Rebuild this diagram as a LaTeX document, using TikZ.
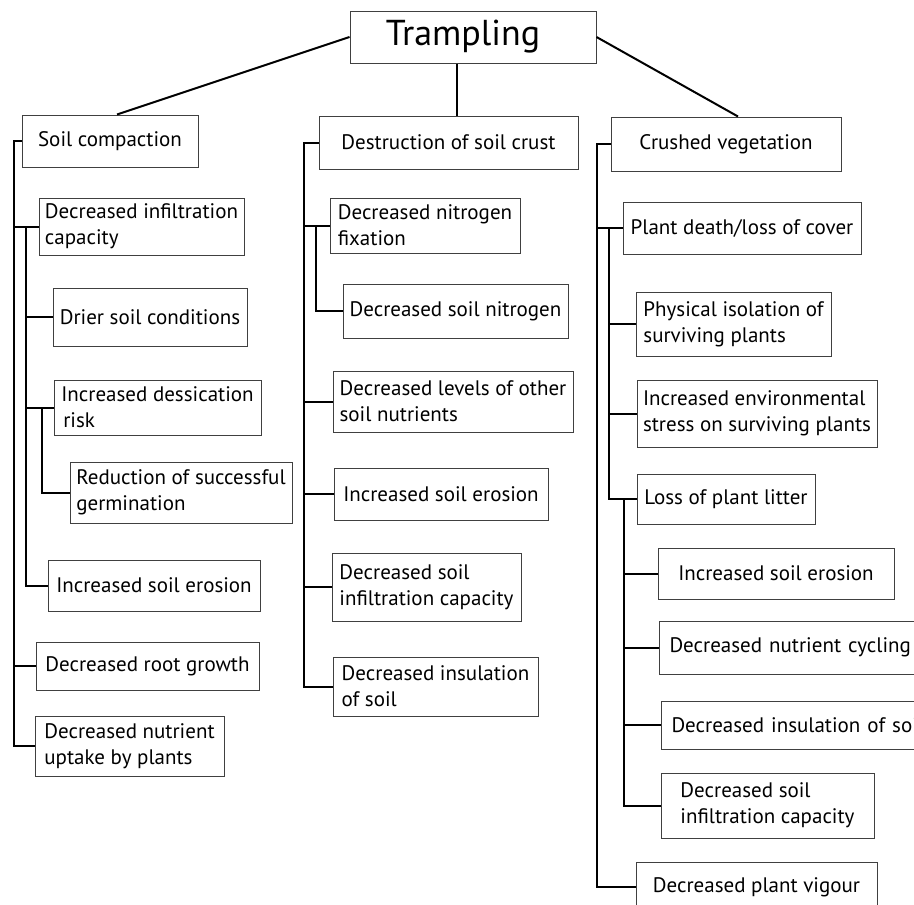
\documentclass[tikz,border=0pt]{standalone}
\usepackage{fontspec}
\setmainfont{PT Sans}
\newcommand\bx[7][]{\node[box,minimum width={#5pt-#3pt},minimum height={#6pt-#4pt},#1] (#2) at ({(#3+#5)/2},{(#4+#6)/2}) {#7};}
\begin{document}
\begin{tikzpicture}[x=1pt,y=-1pt,
  box/.style={draw=black!75, line width=1pt, inner sep=0pt, align=left, font=\fontsize{21}{26}\selectfont},
  leftbox/.style={inner xsep=10pt, text width={#1}},
  conn/.style={line width=2pt, black}]
\useasboundingbox (0,0) rectangle (914,905);
\clip (0,0) rectangle (914,905);
\fill[white] (0,0) rectangle (914,905);
% top level
\bx[font=\fontsize{36}{40}\selectfont]{tr}{350}{11}{596}{63}{Trampling\hspace*{20pt}}
\bx{sc}{22}{115}{198}{167}{Soil compaction}
\bx{ds}{319}{116}{578}{169}{Destruction of soil crust}
\bx{cv}{611}{117}{841}{171}{Crushed vegetation}
\draw[conn] (tr.west) -- ([xshift=7pt]sc.north);
\draw[conn] ([xshift=-16pt]tr.south) -- ([xshift=-16pt]tr.south |- ds.north);
\draw[conn] (tr.east) -- ([xshift=12pt]cv.north);
% left column
\bx{dic}{39}{198}{244}{255}{Decreased infiltration\\capacity}
\bx{dsc}{53}{288}{247}{346}{Drier soil conditions}
\bx{idr}{54}{380}{261}{435}{Increased dessication\\\hspace{2pt}risk}
\bx{rsg}{70}{462}{292}{523}{Reduction of successful\\germination}
\bx{ise1}{48}{560}{260}{611}{Increased soil erosion}
\bx{drg}{36}{642}{259}{690}{Decreased root growth}
\bx{dnu}{35}{716}{224}{776}{Decreased nutrient\\uptake by plants}
\coordinate (L1) at (14,0);
\coordinate (L2) at (26,0);
\coordinate (L3) at (42,0);
\draw[conn] (sc.west) -- (sc.west -| L1) |- (dnu.west);
\draw[conn] (dic.west -| L1) -- (dic.west);
\draw[conn] (drg.west -| L1) -- (drg.west);
\draw[conn] (dic.west -| L2) |- (ise1.west);
\draw[conn] (dsc.west -| L2) -- (dsc.west);
\draw[conn] (idr.west -| L2) -- (idr.west);
\draw[conn] (idr.west -| L3) |- (rsg.west);
% middle column
\bx{dnf}{330}{198}{520}{253}{Decreased nitrogen\\fixation}
\bx{dsn}{343}{284}{568}{338}{Decreased soil nitrogen}
\bx{dlo}{333}{371}{573}{432}{Decreased levels of other\\soil nutrients}
\bx{ise2}{334}{468}{548}{520}{Increased soil erosion}
\bx{dsi2}{332}{553}{521}{621}{Decreased soil\\infiltration capacity}
\bx{dis2}{333}{657}{538}{716}{Decreased insulation\\of soil}
\coordinate (M1) at (304,0);
\coordinate (M2) at (316,0);
\draw[conn] (ds.west) -- (ds.west -| M1) |- (dis2.west);
\draw[conn] (dnf.west -| M1) -- (dnf.west);
\draw[conn] (dlo.west -| M1) -- (dlo.west);
\draw[conn] (ise2.west -| M1) -- (ise2.west);
\draw[conn] (dsi2.west -| M1) -- (dsi2.west);
\draw[conn] (dnf.west -| M2) |- (dsn.west);
% right column
\bx{pd}{623}{202}{861}{254}{Plant death/loss of cover}
\bx{pi}{636}{292}{831}{356}{Physical isolation of\\surviving plants}
\bx{ies}{637}{380}{877}{447}{Increased environmental\\stress on surviving plants}
\bx{lpl}{637}{474}{815}{524}{Loss of plant litter}
\bx{ise3}{658}{548}{894}{599}{Increased soil erosion}
\bx[leftbox=290pt]{dnc}{659}{621}{970}{674}{Decreased nutrient cycling}
\bx[leftbox=290pt]{dis3}{661}{701}{972}{749}{Decreased insulation of soil}
\bx{dsi3}{661}{773}{874}{838}{Decreased soil\\infiltration capacity}
\bx{dpv}{636}{862}{877}{912}{Decreased plant vigour}
\coordinate (R1) at (597,0);
\coordinate (R2) at (609,0);
\coordinate (R3) at (624,0);
\draw[conn] (cv.west) -- (cv.west -| R1) |- (dpv.west);
\draw[conn] (pd.west -| R1) -- (pd.west);
\draw[conn] (pd.west -| R2) |- (lpl.west);
\draw[conn] (pi.west -| R2) -- (pi.west);
\draw[conn] (ies.west -| R2) -- (ies.west);
\draw[conn] (lpl.west -| R3) |- (dsi3.west);
\draw[conn] (ise3.west -| R3) -- (ise3.west);
\draw[conn] (dnc.west -| R3) -- (dnc.west);
\draw[conn] (dis3.west -| R3) -- (dis3.west);
\end{tikzpicture}
\end{document}
